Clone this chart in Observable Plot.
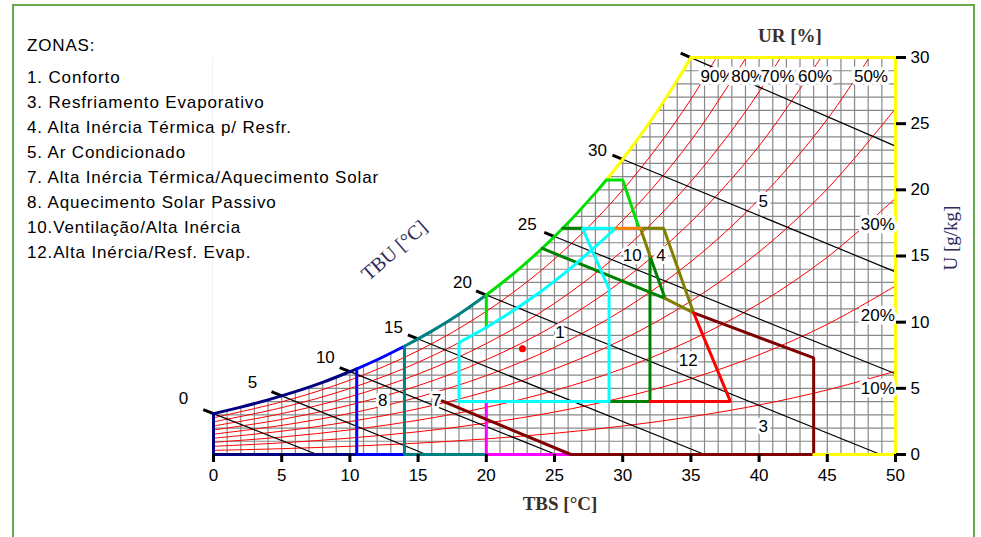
<!DOCTYPE html>
<html><head><meta charset="utf-8">
<script src="https://cdn.jsdelivr.net/npm/d3@7"></script>
<script src="https://cdn.jsdelivr.net/npm/@observablehq/plot@0.6"></script>
<style>
body{margin:0;background:#fff;}
#wrap{position:relative;width:981px;height:537px;overflow:hidden;font-family:"Liberation Sans",Arial,sans-serif;background:#fff;}
#chart{position:absolute;left:0;top:0;}
#frame{position:absolute;left:12px;top:4px;width:963px;height:560px;border:2px solid #6aa84f;box-sizing:border-box;pointer-events:none;}
.lg{position:absolute;left:27px;font-size:17px;line-height:25px;letter-spacing:0.85px;color:#000;white-space:pre;}
.ttl{position:absolute;white-space:nowrap;font-family:"Liberation Serif","Times New Roman",serif;line-height:1;transform-origin:center center;}
</style></head><body>
<div id="wrap">
  <div id="chart"></div>
  <div id="frame"></div>
</div>
<script>
// ---------- data ----------
const legendTitle = "ZONAS:";
const legendItems = [
  "1. Conforto",
  "3. Resfriamento Evaporativo",
  "4. Alta Inércia Térmica p/ Resfr.",
  "5. Ar Condicionado",
  "7. Alta Inércia Térmica/Aquecimento Solar",
  "8. Aquecimento Solar Passivo",
  "10.Ventilação/Alta Inércia",
  "12.Alta Inércia/Resf. Evap."
];

const xTicks = [0, 5, 10, 15, 20, 25, 30, 35, 40, 45, 50];
const yTicks = [0, 5, 10, 15, 20, 25, 30];

// saturation curve (TBS °C, U g/kg)
const satT = [0, 2, 4, 6, 8, 10, 10.5, 12, 14, 16, 18, 20, 22, 24, 26, 28, 28.8, 30, 32, 34, 35];
const satU = [3.09, 3.58, 4.13, 4.75, 5.45, 6.26, 6.47, 7.16, 8.18, 9.32, 10.60, 12.05, 13.67, 15.48, 17.51, 19.77, 20.74, 22.31, 25.13, 28.28, 29.99];

// relative humidity curves, U at each temperature
const rhTemps = [0, 5, 10, 15, 20, 25, 30, 35, 40, 45, 50];
const rhLevels = [10, 20, 30, 40, 50, 60, 70, 80, 90];
const rh10 = [0.31, 0.44, 0.62, 0.86, 1.18, 1.60, 2.15, 2.85, 3.74, 4.88, 6.29];
const rh20 = [0.62, 0.88, 1.24, 1.72, 2.37, 3.21, 4.31, 5.73, 7.54, 9.84, 12.74];
const rh30 = [0.92, 1.32, 1.86, 2.59, 3.56, 4.83, 6.49, 8.64, 11.40, 14.91, 19.36];
const rh40 = [1.23, 1.76, 2.49, 3.46, 4.75, 6.46, 8.69, 11.59, 15.31, 20.07, 26.14];
const rh50 = [1.54, 2.20, 3.11, 4.33, 5.96, 8.10, 10.91, 14.57, 19.29, 25.34, 33.10];
const rh60 = [1.85, 2.65, 3.74, 5.20, 7.16, 9.75, 13.15, 17.58, 23.32, 30.72];
const rh70 = [2.16, 3.09, 4.36, 6.08, 8.38, 11.42, 15.41, 20.63, 27.41, 36.2];
const rh80 = [2.47, 3.54, 4.99, 6.96, 9.60, 13.09, 17.69, 23.72, 31.57];
const rh90 = [2.78, 3.98, 5.62, 7.84, 10.82, 14.77, 19.99, 26.84, 35.80];

// RH labels
const rhLabelText = ["90%", "80%", "70%", "60%", "50%", "30%", "20%", "10%"];
const rhLabelT = [36.95, 39.2, 41.35, 44.1, 48.2, 48.7, 48.7, 48.7];
const rhLabelU = [28.56, 28.56, 28.56, 28.56, 28.56, 17.35, 10.5, 5.0];

// wet-bulb (TBU) lines
const tbuValues = [0, 5, 10, 15, 20, 25, 30, 35];
const tbuStartU = [3.09, 4.43, 6.26, 8.73, 12.05, 16.47, 22.31, 29.99];
const tbuEndT = [7.6, 15.6, 25.1, 36.0, 48.9, 50, 50, 50];
const tbuEndU = [0, 0, 0, 0, 0, 6.1, 13.8, 23.3];
const tbuLabelText = ["0", "5", "10", "15", "20", "25", "30"];
const tbuLabelT = [-2.2, 2.86, 8.2, 13.2, 18.25, 23.0, 28.15];
const tbuLabelU = [4.24, 5.45, 7.35, 9.6, 13.0, 17.35, 23.0];

// zone boundaries [TBS, U]
const navyLine = [[0, 3.09], [0, 0], [10.5, 0]];
const blueLine = [[10.5, 6.47], [10.5, 0], [14, 0]];
const tealLine = [[14, 8.18], [14, 0], [20, 0]];
const magentaLine = [[20, 4], [20, 0], [26.2, 0]];
const maroonLine = [[26.2, 0], [44, 0], [44, 7.3], [35.2, 10.7]];
const maroonDiag = [[16.75, 4.05], [26.2, 0]];
const yellowLine = [[35, 30], [50, 30], [50, 0], [44, 0]];
const greenEdge = [[20, 9.6], [20, 12.05]];
const greenTop = [[28.8, 20.74], [30.0, 20.74], [31.2, 17.1]];
const cyanLine = [[29, 4], [18, 4], [18, 8.45], [20, 9.6], [22, 10.88], [24, 12.31], [26, 13.91], [28, 15.7], [29.5, 17.1], [27.05, 17.1], [29, 12.5], [29, 4]];
const darkGreenTop = [[25.6, 17.1], [27.05, 17.1]];
const darkGreenDiag = [[24.1, 15.57], [33.1, 11.8]];
const darkGreenSide = [[32, 15.0], [33.1, 11.8]];
const darkGreenBox = [[32, 15.0], [32, 4], [29, 4]];
const oliveLine = [[31.3, 17.1], [33, 17.1], [35.2, 10.7], [33.1, 11.8]];
const oliveDiag = [[31.3, 17.1], [32, 15.0]];
const orangeLine = [[29.5, 17.1], [31.3, 17.1]];
const redLine = [[35.2, 10.7], [37.9, 4], [32, 4]];

// zone numbers
const zoneLabelText = ["1", "3", "4", "5", "7", "8", "10", "12"];
const zoneLabelT = [25.4, 40.3, 32.8, 40.3, 16.35, 12.4, 30.7, 34.8];
const zoneLabelU = [9.2, 2.1, 15.0, 19.1, 4.1, 4.1, 15.0, 7.1];

// measured point
const pointT = [22.65];
const pointU = [8.0];

// ---------- build ----------
const sat = satT.map((t, i) => ({t, u: satU[i]}));
const satSeg = (a, b) => sat.filter(d => d.t >= a && d.t <= b);
const rhSeries = [rh10, rh20, rh30, rh40, rh50, rh60, rh70, rh80, rh90];
const rhTable = rhSeries.flatMap((arr, i) => arr.map((u, j) => ({rh: rhLevels[i], t: rhTemps[j], u})));
const tbu = tbuValues.map((v, i) => {
  const s = (tbuStartU[i] - tbuEndU[i]) / (tbuEndT[i] - v);
  return {v, t0: v, u0: tbuStartU[i], t1: tbuEndT[i], u1: tbuEndU[i], tt: v - 0.75, ut: tbuStartU[i] + 0.75 * s};
});
const rhLabels = rhLabelText.map((s, i) => ({s, t: rhLabelT[i], u: rhLabelU[i]}));
const tbuLabels = tbuLabelText.map((s, i) => ({s, t: tbuLabelT[i], u: tbuLabelU[i]}));
const zoneLabels = zoneLabelText.map((s, i) => ({s, t: zoneLabelT[i], u: zoneLabelU[i]}));
const points = pointT.map((t, i) => ({t, u: pointU[i]}));

const gridT = d3.range(0, 51, 1);
const gridU = d3.range(0, 31, 1);

const pl = (pts, color, w = 3) => Plot.line(pts, {x: d => d[0], y: d => d[1], stroke: color, strokeWidth: w, strokeLinejoin: "miter"});
const sl = (a, b, color) => Plot.line(satSeg(a, b), {x: "t", y: "u", stroke: color, strokeWidth: 3, curve: "catmull-rom"});

const chart = Plot.plot({
  width: 981,
  height: 537,
  marginLeft: 213,
  marginRight: 86,
  marginTop: 57,
  marginBottom: 83,
  x: {domain: [0, 50]},
  y: {domain: [0, 30]},
  style: {fontFamily: "'Liberation Sans', Arial, sans-serif", fontSize: "17px", background: "transparent"},
  marks: [
    Plot.ruleX(gridT, {x: d => d, y1: 0, y2: 30, stroke: "#888", strokeWidth: 1.2}),
    Plot.ruleY(gridU, {y: d => d, x1: 0, x2: 50, stroke: "#888", strokeWidth: 1.2}),
    Plot.areaY(sat, {x: "t", y1: "u", y2: 30, fill: "white", curve: "catmull-rom"}),
    Plot.line(rhTable, {x: "t", y: "u", z: "rh", stroke: "#ff0000", strokeWidth: 1, curve: "catmull-rom", clip: true}),
    Plot.link(tbu, {x1: "t0", y1: "u0", x2: "t1", y2: "u1", stroke: "#000", strokeWidth: 1.2}),
    Plot.link(tbu, {x1: "tt", y1: "ut", x2: "t0", y2: "u0", stroke: "#000", strokeWidth: 3}),
    // zone boundaries
    sl(0, 10.5, "#000080"), pl(navyLine, "#000080"),
    sl(10.5, 14, "#0000ff"), pl(blueLine, "#0000ff"),
    sl(14, 20, "#008080"), pl(tealLine, "#008080"),
    pl(magentaLine, "#ff00ff"),
    pl(maroonLine, "#800000"), pl(maroonDiag, "#800000"),
    sl(28.8, 35, "#ffff00"), pl(yellowLine, "#ffff00"),
    sl(20, 28.8, "#00e000"), pl(greenEdge, "#00e000"), pl(greenTop, "#00e000"),
    pl(darkGreenTop, "#008000"), pl(darkGreenDiag, "#008000"), pl(darkGreenSide, "#008000"), pl(darkGreenBox, "#008000"),
    pl(cyanLine, "#00ffff"),
    pl(oliveLine, "#808000"), pl(oliveDiag, "#808000"),
    pl(orangeLine, "#ff8000"),
    pl(redLine, "#ff0000"),
    Plot.dot(points, {x: "t", y: "u", r: 3.5, fill: "#ff0000"}),
    // labels
    Plot.text(rhLabels, {x: "t", y: "u", text: "s", fontSize: 17, fill: "#000", stroke: "white", strokeWidth: 7}),
    Plot.text(zoneLabels, {x: "t", y: "u", text: "s", fontSize: 17, fill: "#000", stroke: "white", strokeWidth: 6}),
    Plot.text(tbuLabels, {x: "t", y: "u", text: "s", fontSize: 17, fill: "#000"}),
    Plot.axisX({ticks: xTicks, tickSize: 8, tickPadding: 6, fontSize: 17, strokeWidth: 3, label: null, anchor: "bottom"}),
    Plot.axisY({ticks: yTicks, tickSize: 10, tickPadding: 5, fontSize: 17, strokeWidth: 3, label: null, anchor: "right"})
  ]
});
document.getElementById("chart").appendChild(chart);

// legend and titles
const wrap = document.getElementById("wrap");
const t0 = document.createElement("div");
t0.className = "lg"; t0.style.top = "33px"; t0.textContent = legendTitle;
wrap.appendChild(t0);
const lg = document.createElement("div");
lg.className = "lg"; lg.style.top = "65px"; lg.textContent = legendItems.join("\n");
wrap.appendChild(lg);

const titles = [
  {s: "TBS [°C]", x: 560, y: 503, r: 0, size: 19, weight: "bold", color: "#3a3028"},
  {s: "UR [%]", x: 790, y: 35, r: 0, size: 19, weight: "bold", color: "#3a3028"},
  {s: "U [g/kg]", x: 950, y: 238, r: -90, size: 19, weight: "normal", color: "#2e2a5a"},
  {s: "TBU [°C]", x: 394, y: 250, r: -41, size: 20, weight: "normal", color: "#2e2a5a"}
];
for (const t of titles) {
  const d = document.createElement("div");
  d.className = "ttl";
  d.textContent = t.s;
  d.style.left = t.x + "px";
  d.style.top = t.y + "px";
  d.style.fontSize = t.size + "px";
  d.style.fontWeight = t.weight;
  d.style.color = t.color;
  d.style.transform = `translate(-50%,-50%) rotate(${t.r}deg)`;
  wrap.appendChild(d);
}
</script>
</body></html>
